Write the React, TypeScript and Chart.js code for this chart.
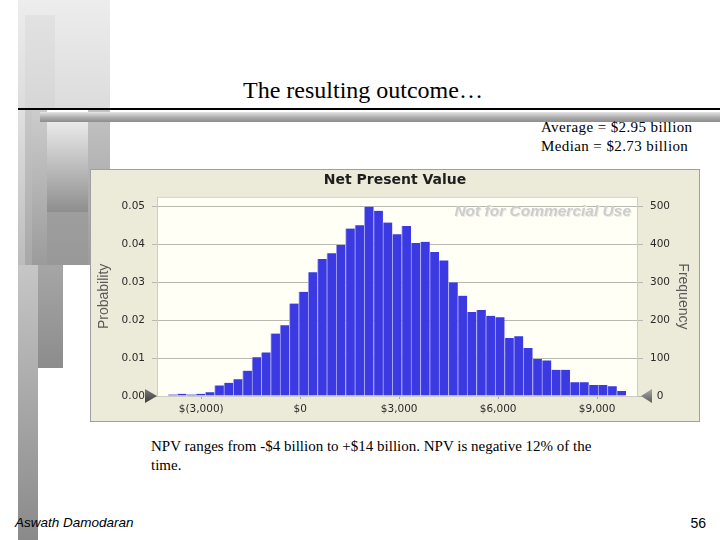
import React, { useEffect, useRef } from "react";
import { Chart, registerables } from "chart.js";

Chart.register(...registerables);

// ---- data ----
const binCenters = [
  -3870, -3587, -3303, -3020, -2736, -2453, -2169, -1886, -1602, -1319,
  -1035, -752, -468, -185, 99, 383, 666, 950, 1233, 1517,
  1800, 2084, 2367, 2651, 2934, 3218, 3501, 3785, 4068, 4352,
  4635, 4919, 5202, 5486, 5769, 6053, 6336, 6620, 6903, 7187,
  7470, 7754, 8037, 8321, 8604, 8888, 9171, 9455, 9738,
];
const probabilities = [
  0.0004, 0.0006, 0.0004, 0.0006, 0.001, 0.0028, 0.0035, 0.0044, 0.0067, 0.0102,
  0.0115, 0.0165, 0.0187, 0.0244, 0.0275, 0.0327, 0.0362, 0.0377, 0.0399, 0.0442,
  0.0451, 0.05, 0.0489, 0.0458, 0.0427, 0.0449, 0.0404, 0.0407, 0.038, 0.0358,
  0.03, 0.0265, 0.0222, 0.0227, 0.0212, 0.0208, 0.0153, 0.0158, 0.0127, 0.0098,
  0.0094, 0.0069, 0.0069, 0.0036, 0.0036, 0.0029, 0.0029, 0.0026, 0.0013,
];
const xTickValues = [-3000, 0, 3000, 6000, 9000];
const probTickValues = [0, 0.01, 0.02, 0.03, 0.04, 0.05];
const freqTickValues = [0, 100, 200, 300, 400, 500];
const xRange = [-4340, 10240];
const probRange = [0, 0.0526];
const freqRange = [0, 526];

const fmtMoney = (v: number) => {
  const s = Math.abs(v).toLocaleString("en-US");
  return v < 0 ? `$(${s})` : `$${s}`;
};

const decorPlugin = {
  id: "decor",
  beforeDraw(chart: any) {
    const { ctx, chartArea: a } = chart;
    ctx.save();
    ctx.fillStyle = "#fffff6";
    ctx.fillRect(a.left, a.top, a.right - a.left, a.bottom - a.top);
    ctx.restore();
  },
  beforeDatasetsDraw(chart: any) {
    const { ctx, chartArea: a } = chart;
    ctx.save();
    ctx.strokeStyle = "#cdcdc4";
    ctx.lineWidth = 1;
    ctx.strokeRect(a.left + 0.5, a.top + 0.5, a.right - a.left - 1, a.bottom - a.top);
    ctx.font = "italic bold 15.5px 'Liberation Sans', Arial, sans-serif";
    ctx.textAlign = "right";
    ctx.textBaseline = "middle";
    ctx.fillStyle = "#ebebe6";
    ctx.fillText("Not for Commercial Use", a.right - 6, a.top + 16);
    ctx.fillStyle = "#cdcdcd";
    ctx.fillText("Not for Commercial Use", a.right - 7, a.top + 15);
    ctx.restore();
  },
  afterDraw(chart: any) {
    const { ctx, chartArea: a } = chart;
    ctx.save();
    const y = a.bottom;
    let g = ctx.createLinearGradient(0, y - 7, 0, y + 7);
    g.addColorStop(0, "#7a7a7a");
    g.addColorStop(1, "#3c3c3c");
    ctx.fillStyle = g;
    ctx.beginPath();
    ctx.moveTo(a.left - 12, y - 7);
    ctx.lineTo(a.left, y);
    ctx.lineTo(a.left - 12, y + 7);
    ctx.closePath();
    ctx.fill();
    g = ctx.createLinearGradient(0, y - 7, 0, y + 7);
    g.addColorStop(0, "#a8a8a8");
    g.addColorStop(1, "#5a5a5a");
    ctx.fillStyle = g;
    ctx.beginPath();
    ctx.moveTo(a.right + 14, y - 7);
    ctx.lineTo(a.right + 3, y);
    ctx.lineTo(a.right + 14, y + 7);
    ctx.closePath();
    ctx.fill();
    ctx.restore();
  },
};

function NPVChart() {
  const ref = useRef<HTMLCanvasElement | null>(null);
  useEffect(() => {
    if (!ref.current) return;
    const tickFont = { family: "'DejaVu Sans', sans-serif", size: 10.5 };
    const chart = new Chart(ref.current, {
      type: "bar",
      data: {
        datasets: [
          {
            data: binCenters.map((x, i) => ({ x, y: probabilities[i] })),
            backgroundColor: "#3b3ae2",
            borderColor: "#a9a9f2",
            borderWidth: { left: 1, right: 0, top: 0, bottom: 0 } as any,
            borderSkipped: false as any,
            categoryPercentage: 1,
            barPercentage: 1,
            yAxisID: "y",
          },
        ],
      },
      options: {
        animation: false,
        responsive: true,
        maintainAspectRatio: false,
        layout: { padding: 0 },
        plugins: {
          legend: { display: false },
          tooltip: { enabled: false },
          title: {
            display: true,
            text: "Net Present Value",
            color: "#1e1e1e",
            font: { family: "'DejaVu Sans', sans-serif", size: 14, weight: "bold" },
            padding: { top: 2, bottom: 8 },
          },
        },
        scales: {
          x: {
            type: "linear",
            min: xRange[0],
            max: xRange[1],
            offset: false,
            grid: { display: true, drawOnChartArea: false, drawTicks: true, tickLength: 3, color: "#a8a8a0", offset: false },
            border: { display: false },
            afterBuildTicks: (s: any) => {
              s.ticks = xTickValues.map((v) => ({ value: v }));
            },
            afterFit: (s: any) => {
              s.height = 25;
            },
            ticks: {
              color: "#2a2a2a",
              font: tickFont,
              padding: 4,
              maxRotation: 0,
              autoSkip: false,
              callback: (v: any) => fmtMoney(Number(v)),
            },
          },
          y: {
            type: "linear",
            position: "left",
            min: probRange[0],
            max: probRange[1],
            grid: { color: "#b9b9b1", tickLength: 5, drawTicks: true },
            border: { display: false },
            afterBuildTicks: (s: any) => {
              s.ticks = probTickValues.map((v) => ({ value: v }));
            },
            afterFit: (s: any) => {
              s.width = 66;
            },
            ticks: {
              color: "#2a2a2a",
              font: tickFont,
              padding: 7,
              callback: (v: any) => Number(v).toFixed(2),
            },
            title: {
              display: true,
              text: "Probability",
              color: "#5a5a5a",
              font: { family: "'Liberation Sans', Arial, sans-serif", size: 14 },
              padding: { top: 5, bottom: 0 },
            },
          },
          y1: {
            type: "linear",
            position: "right",
            min: freqRange[0],
            max: freqRange[1],
            grid: { drawOnChartArea: false, color: "#b9b9b1", tickLength: 5, drawTicks: true },
            border: { display: false },
            afterBuildTicks: (s: any) => {
              s.ticks = freqTickValues.map((v) => ({ value: v }));
            },
            afterFit: (s: any) => {
              s.width = 61;
            },
            ticks: {
              color: "#2a2a2a",
              font: tickFont,
              padding: 7,
              crossAlign: "center",
            },
            title: {
              display: true,
              text: "Frequency",
              color: "#5a5a5a",
              font: { family: "'Liberation Sans', Arial, sans-serif", size: 14 },
              padding: { top: 8, bottom: 0 },
            },
          },
        },
      } as any,
      plugins: [decorPlugin],
    });
    return () => chart.destroy();
  }, []);
  return <canvas ref={ref} />;
}

const decorRects = [
  { l: 18, t: 0, w: 92, h: 108, c: ["#ededed", "#dcdcdc"] },
  { l: 25, t: 15, w: 30, h: 93, c: ["#e2e2e2", "#d6d6d6"] },
  { l: 18, t: 110, w: 7, h: 155, c: ["#e0e0e0", "#bcbcbc"] },
  { l: 25, t: 110, w: 7, h: 155, c: ["#c8c8c8", "#a8a8a8"] },
  { l: 32, t: 110, w: 15, h: 197, c: ["#cccccc", "#8e8e8e"] },
  { l: 47, t: 122, w: 41, h: 90, c: ["#eaeaea", "#8e8e8e"] },
  { l: 47, t: 212, w: 43, h: 53, c: ["#9e9e9e", "#989898"] },
  { l: 88, t: 110, w: 22, h: 155, c: ["#c2c2c2", "#9c9c9c"] },
  { l: 33, t: 265, w: 30, h: 103, c: ["#a6a6a6", "#8c8c8c"] },
  { l: 18, t: 265, w: 20, h: 275, c: ["#c6c6c6", "#8a8a8a"] },
];

export default function App() {
  const serif = "'Liberation Serif', 'Times New Roman', serif";
  return (
    <div
      style={{
        position: "absolute",
        left: 0,
        top: 0,
        width: 720,
        height: 540,
        background: "#fff",
        overflow: "hidden",
        fontFamily: serif,
      }}
    >
      {decorRects.map((r, i) => (
        <div
          key={i}
          style={{
            position: "absolute",
            left: r.l,
            top: r.t,
            width: r.w,
            height: r.h,
            background: `linear-gradient(${r.c[0]}, ${r.c[1]})`,
          }}
        />
      ))}
      <div style={{ position: "absolute", left: 18, top: 108, width: 702, height: 2, background: "#000" }} />
      <div
        style={{
          position: "absolute",
          left: 40,
          top: 112,
          width: 680,
          height: 10,
          background: "linear-gradient(#e4e4e4, #a8a8a8 60%, #8c8c8c)",
        }}
      />
      <div
        style={{
          position: "absolute",
          left: 243,
          top: 76,
          fontSize: 24,
          lineHeight: "28px",
          whiteSpace: "nowrap",
          color: "#000",
        }}
      >
        The resulting outcome…
      </div>
      <div
        style={{
          position: "absolute",
          left: 541,
          top: 118,
          fontSize: 15,
          lineHeight: "19px",
          letterSpacing: 0.4,
          whiteSpace: "nowrap",
          color: "#000",
        }}
      >
        Average = $2.95 billion
        <br />
        Median = $2.73 billion
      </div>
      <div
        style={{
          position: "absolute",
          left: 90,
          top: 169,
          width: 610,
          height: 253,
          boxSizing: "border-box",
          border: "1px solid #a0a0a0",
          background: "#ecead9",
        }}
      >
        <div style={{ position: "relative", width: 608, height: 251 }}>
          <NPVChart />
        </div>
      </div>
      <div
        style={{
          position: "absolute",
          left: 151,
          top: 437,
          fontSize: 15,
          lineHeight: "19px",
          whiteSpace: "nowrap",
          color: "#000",
        }}
      >
        NPV ranges from -$4 billion to +$14 billion. NPV is negative 12% of the
        <br />
        time.
      </div>
      <div
        style={{
          position: "absolute",
          left: 15,
          top: 515,
          fontSize: 13.5,
          lineHeight: "16px",
          fontStyle: "italic",
          fontFamily: "'Liberation Sans', Arial, sans-serif",
          whiteSpace: "nowrap",
        }}
      >
        Aswath Damodaran
      </div>
      <div
        style={{
          position: "absolute",
          right: 14,
          top: 515,
          fontSize: 14,
          lineHeight: "16px",
          fontFamily: "'Liberation Sans', Arial, sans-serif",
        }}
      >
        56
      </div>
    </div>
  );
}
